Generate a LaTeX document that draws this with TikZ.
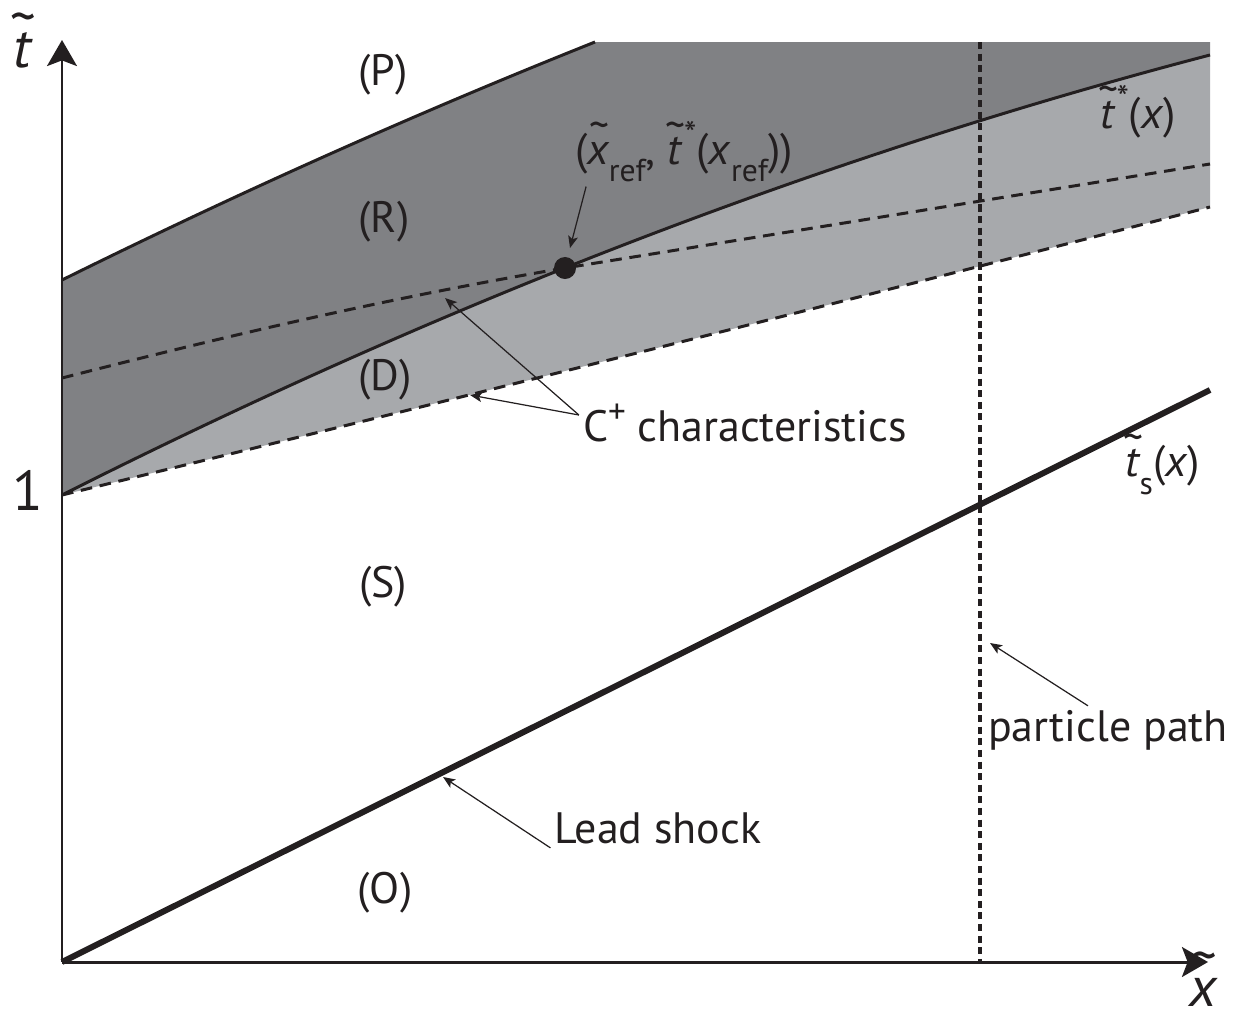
\documentclass[tikz,border=0pt]{standalone}
\usepackage{fontspec}
\setmainfont{PT Sans}
\usetikzlibrary{arrows.meta}
\definecolor{regdark}{HTML}{808184}
\definecolor{reglight}{HTML}{A7A9AC}
\definecolor{ink}{HTML}{231F20}

% tilde over an italic letter, sub- and superscripts
\newcommand{\tld}[1]{{\setbox0\hbox{\itshape #1}\rlap{\raisebox{0.55em}[0pt][0pt]{\makebox[\wd0][c]{\hspace{0.05em}\scalebox{0.9}[1]{\textasciitilde}}}}\box0}}
\newcommand{\lowidx}[1]{\raisebox{-0.4em}{\fontsize{9}{9}\selectfont #1}}
\newcommand{\upidx}[1]{\raisebox{0.4em}{\fontsize{10}{10}\selectfont #1}}

\begin{document}
\begin{tikzpicture}[x=0.01cm, y=-0.01cm,
    curve/.style={ink, line width=0.85pt},
    charline/.style={ink, line width=0.85pt, dash pattern=on 3.3pt off 2.2pt},
    pointer/.style={ink, line width=0.35pt, -{Stealth[length=3.4pt, width=2.8pt, inset=0.8pt]}},
    lbl/.style={text=ink, inner sep=1pt, font=\fontsize{12.5}{15}\selectfont},
    biglbl/.style={text=ink, inner sep=1pt, font=\fontsize{16}{18}\selectfont}]
    \useasboundingbox (0,0) rectangle (1237,1021);

    % Regionen
    \fill[regdark] (62,280) .. controls (240,192) and (417,113) .. (595,42) -- (1210,42) -- (1210,55)
        .. controls (827,155) and (445,302) .. (62,495) -- cycle;
    \fill[reglight] (62,495) .. controls (445,302) and (827,155) .. (1210,55) -- (1210,207)
        .. controls (827,306) and (445,402) .. (62,495) -- cycle;

    % Teilchenbahn
    \draw[ink, line width=0.9pt, dash pattern=on 2pt off 1.3pt] (980,42) -- (980,962);

    % C+ Charakteristiken
    \draw[charline] (62,378) .. controls (250,330) and (400,296) .. (565,268) -- (1210,164);
    \draw[charline] (62,495) .. controls (445,402) and (827,306) .. (1210,207);

    % t*(x), obere Grenze, Lead shock
    \draw[curve] (62,495) .. controls (445,302) and (827,155) .. (1210,55);
    \draw[curve] (62,280) .. controls (240,192) and (417,113) .. (595,42);
    \draw[ink, line width=1.7pt] (62,962) -- (1210,390);

    % Achsen
    \coordinate (O) at (62,962);
    \coordinate (ttop) at (62,40);
    \coordinate (xend) at (1208,962);
    \draw[ink, line width=0.85pt, -{Stealth[length=7.4pt, width=8.5pt, inset=1.6pt]}] (O) -- (ttop);
    \draw[ink, line width=0.85pt, -{Stealth[length=7.4pt, width=8.5pt, inset=1.6pt]}] (O) -- (xend);
    \node[biglbl] (tlab) at (22,50) {\tld{t}};
    \node[biglbl] (xlab) at (1203,992) {\tld{x}};
    \node[biglbl] (one) at (28,490) {1};

    % Referenzpunkt
    \coordinate (ref) at (565,268);
    \fill[ink] (ref) circle[radius=0.11cm];

    % Gebiete
    \node[lbl] (P) at (383,75) {(P)};
    \node[lbl] (R) at (384,222) {(R)};
    \node[lbl] (D) at (385,380) {(D)};
    \node[lbl] (S) at (383,587) {(S)};
    \node[lbl] (Ol) at (385,893) {(O)};

    % Beschriftungen
    \node[lbl] (reflab) at (684,152) {(\tld{x}\lowidx{ref}, \tld{t}\upidx{\kern0.08em*}(\textit{x}\lowidx{ref}))};
    \node[lbl] (tstar) at (1138,112) {\tld{t}\upidx{\kern0.08em*}(\textit{x})};
    \node[lbl] (tshock) at (1163,470) {\tld{t}\lowidx{s}(\textit{x})};
    \node[lbl] (cplus) at (745,423) {C\upidx{+} characteristics};
    \node[lbl] (ppath) at (1108,730) {particle path};
    \node[lbl] (lead) at (658,828) {Lead shock};

    % Hinweispfeile
    \coordinate (onupper) at (445,298);
    \coordinate (onlower) at (470,395);
    \coordinate (onpath) at (990,643);
    \coordinate (onshock) at (443,777);
    \draw[pointer] ([xshift=0.15cm]reflab.south west) -- ([shift={(0.05cm,0.2cm)}]ref);
    \draw[pointer] ([yshift=0.08cm]cplus.west) -- (onupper);
    \draw[pointer] ([yshift=0.08cm]cplus.west) -- (onlower);
    \draw[pointer] ([xshift=-0.2cm]ppath.north) -- (onpath);
    \draw[pointer] (lead.south west) -- (onshock);
\end{tikzpicture}
\end{document}
